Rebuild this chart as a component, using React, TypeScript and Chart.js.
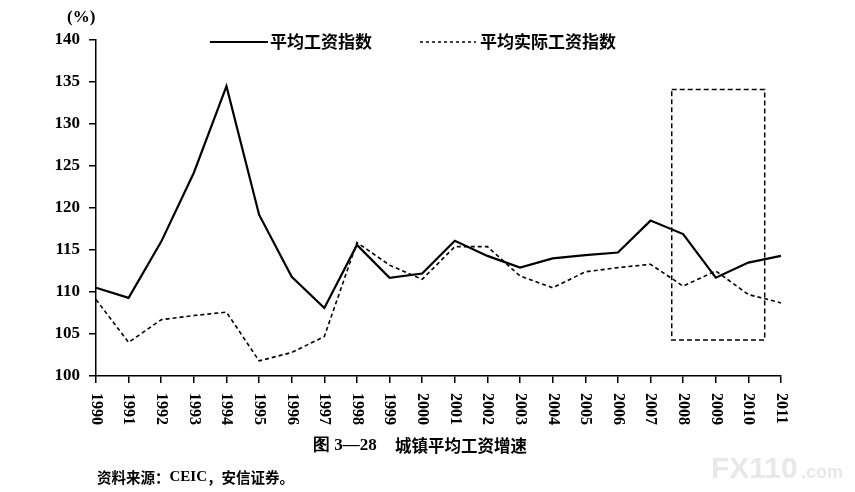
import React, { useEffect, useRef } from 'react';
import { Chart, registerables } from 'chart.js';

Chart.register(...registerables);

const years = [
  '1990', '1991', '1992', '1993', '1994', '1995', '1996', '1997', '1998', '1999', '2000',
  '2001', '2002', '2003', '2004', '2005', '2006', '2007', '2008', '2009', '2010', '2011',
];
const avgWageIndex = [
  110.5, 109.3, 116.0, 124.2, 134.5, 119.2, 111.8, 108.1, 115.6, 111.7, 112.2,
  116.1, 114.3, 112.9, 114.0, 114.4, 114.7, 118.5, 116.9, 111.7, 113.5, 114.3,
];
const realWageIndex = [
  109.1, 104.0, 106.7, 107.2, 107.6, 101.8, 102.8, 104.7, 115.9, 113.2, 111.5,
  115.4, 115.4, 111.9, 110.5, 112.4, 112.9, 113.3, 110.7, 112.5, 109.7, 108.7,
];
const seriesNames = ['平均工资指数', '平均实际工资指数'];
// dashed highlight box, in category index / value units
const boxFromIndex = 17.65;
const boxToIndex = 20.5;
const boxTop = 134.1;
const boxBottom = 104.3;

const serif = '"Liberation Serif", "Times New Roman", serif';
const cjk = '"Noto Sans CJK SC", sans-serif';

// draws a run of [text, font] pieces left to right
function drawPieces(ctx: CanvasRenderingContext2D, pieces: [string, string][], x: number, y: number) {
  let cx = x;
  pieces.forEach(([text, font]) => {
    ctx.font = font;
    ctx.fillText(text, cx, y);
    cx += ctx.measureText(text).width;
  });
}

const decorations = {
  id: 'decorations',
  afterDraw(chart: any) {
    const ctx = chart.ctx as CanvasRenderingContext2D;
    const x = chart.scales.x;
    const y = chart.scales.y;
    ctx.save();

    // x labels, rotated clockwise
    ctx.fillStyle = '#000';
    ctx.font = `bold 16px ${serif}`;
    ctx.textAlign = 'left';
    ctx.textBaseline = 'middle';
    years.forEach((label, i) => {
      ctx.save();
      ctx.translate(x.getPixelForValue(i), y.bottom + 17);
      ctx.rotate(Math.PI / 2);
      ctx.fillText(label, 0, 0);
      ctx.restore();
    });

    // highlight box
    ctx.strokeStyle = '#000';
    ctx.lineWidth = 1.5;
    ctx.setLineDash([5, 3]);
    const l = x.getPixelForValue(boxFromIndex);
    const r = x.getPixelForValue(boxToIndex);
    const t = y.getPixelForValue(boxTop);
    const b = y.getPixelForValue(boxBottom);
    ctx.strokeRect(l, t, r - l, b - t);

    // legend
    ctx.setLineDash([]);
    ctx.lineWidth = 2.2;
    ctx.beginPath();
    ctx.moveTo(210, 42);
    ctx.lineTo(268, 42);
    ctx.stroke();
    ctx.setLineDash([3, 3]);
    ctx.lineWidth = 1.5;
    ctx.beginPath();
    ctx.moveTo(420, 42);
    ctx.lineTo(476, 42);
    ctx.stroke();
    ctx.setLineDash([]);
    ctx.font = `bold 17px ${cjk}`;
    ctx.fillText(seriesNames[0], 270, 42);
    ctx.fillText(seriesNames[1], 480, 42);

    // unit
    ctx.font = `bold 17px ${serif}`;
    ctx.fillText('(%)', 67, 18);

    // caption
    ctx.font = `bold 17px ${serif}`;
    ctx.fillText('图 3—28', 313, 446);
    ctx.font = `bold 16.5px ${cjk}`;
    ctx.fillText('城镇平均工资增速', 395, 446);

    // source
    drawPieces(ctx, [
      ['资料来源：', `bold 14.5px ${cjk}`],
      ['CEIC', `bold 15px ${serif}`],
      ['，安信证券。', `bold 14.5px ${cjk}`],
    ], 97, 477);

    // watermark
    ctx.fillStyle = '#e8e8e8';
    ctx.textBaseline = 'alphabetic';
    ctx.font = 'bold 30px "Liberation Sans", sans-serif';
    ctx.fillText('FX110', 711, 478);
    ctx.font = 'bold 18px "Liberation Sans", sans-serif';
    ctx.fillText('.com', 801, 478);

    ctx.restore();
  },
};

const App: React.FC = () => {
  const canvasRef = useRef<HTMLCanvasElement>(null);

  useEffect(() => {
    if (!canvasRef.current) return;
    const ctx = canvasRef.current.getContext('2d');
    if (!ctx) return;

    const chart = new Chart(ctx, {
      type: 'line',
      data: {
        labels: years,
        datasets: [
          {
            label: seriesNames[0],
            data: avgWageIndex,
            borderColor: '#000',
            borderWidth: 2.2,
            pointRadius: 0,
            tension: 0,
            fill: false,
          },
          {
            label: seriesNames[1],
            data: realWageIndex,
            borderColor: '#000',
            borderWidth: 1.6,
            borderDash: [4, 3],
            pointRadius: 0,
            tension: 0,
            fill: false,
          },
        ],
      },
      options: {
        responsive: false,
        animation: false,
        layout: { padding: { left: 46, top: 40, right: 74, bottom: 46 } },
        plugins: {
          legend: { display: false },
          title: { display: false },
          tooltip: { enabled: false },
        },
        scales: {
          x: {
            type: 'category',
            offset: false,
            afterFit: (scale: any) => {
              scale.height = 70;
            },
            grid: { drawOnChartArea: false, tickLength: 7, tickColor: '#000', lineWidth: 1.5 },
            border: { color: '#000', width: 1.5 },
            ticks: {
              color: 'rgba(0,0,0,0)',
              autoSkip: false,
              minRotation: 90,
              maxRotation: 90,
              font: { family: serif, size: 16, weight: 'bold' },
            },
          },
          y: {
            min: 100,
            max: 140,
            afterFit: (scale: any) => {
              scale.width = 50;
            },
            grid: { drawOnChartArea: false, tickLength: 7, tickColor: '#000', lineWidth: 1.5 },
            border: { color: '#000', width: 1.5 },
            ticks: {
              stepSize: 5,
              padding: 9,
              color: '#000',
              font: { family: serif, size: 17, weight: 'bold' },
            },
          },
        },
      },
      plugins: [decorations],
    });

    return () => {
      chart.destroy();
    };
  }, []);

  return (
    <div style={{ position: 'fixed', left: 0, top: 0, width: 855, height: 492, background: '#fff' }}>
      <canvas ref={canvasRef} width={855} height={492} />
    </div>
  );
};

export default App;
